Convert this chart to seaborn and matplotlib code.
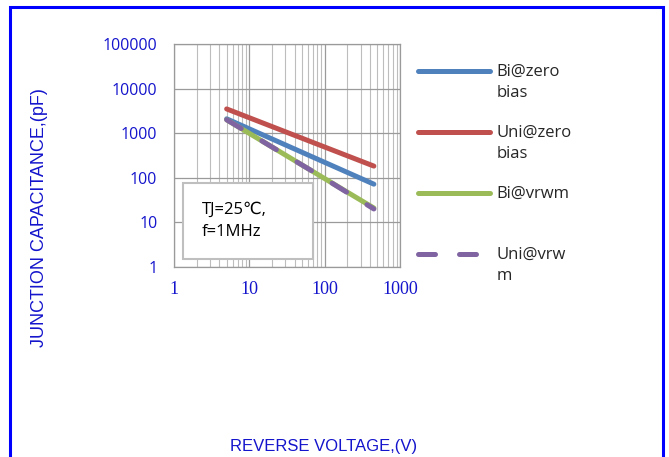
import numpy as np
import pandas as pd
import matplotlib
matplotlib.use("Agg")
import matplotlib.pyplot as plt
from matplotlib.patches import Rectangle
from matplotlib.lines import Line2D
from matplotlib.legend_handler import HandlerLine2D
from matplotlib.ticker import LogLocator, NullLocator, NullFormatter
import seaborn as sns

# Datos (voltaje inverso vs capacitancia)
voltaje = [5, 10, 100, 450]
bi_zero = [2100, 1250, 222, 72]
uni_zero = [3500, 2220, 490, 183]
bi_vrwm = [2000, 990, 96, 21]
uni_vrwm = [2000, 990, 96, 20]

series = ["Bi@zero\nbias", "Uni@zero\nbias", "Bi@vrwm\n ", "Uni@vrw\nm"]
colores = ["#4F81BD", "#C0504D", "#9BBB59", "#8064A2"]
valores = [bi_zero, uni_zero, bi_vrwm, uni_vrwm]

x_ticks = [1, 10, 100, 1000]
y_ticks = [1, 10, 100, 1000, 10000, 100000]

azul = "#1414CC"
interlineado = 1.4

sns.set_theme(style="white")
plt.rcParams["font.family"] = ["Open Sans", "DejaVu Sans"]


class PrimeraLinea(HandlerLine2D):
    # sube la linea de la leyenda a la altura de la primera linea del texto
    def __init__(self, shift, **kw):
        super().__init__(**kw)
        self.shift = shift

    def create_artists(self, legend, orig_handle, xdescent, ydescent,
                       width, height, fontsize, trans):
        arts = super().create_artists(legend, orig_handle, xdescent, ydescent,
                                      width, height, fontsize, trans)
        for a in arts:
            a.set_ydata(np.asarray(a.get_ydata()) + self.shift)
        return arts


fig = plt.figure(figsize=(6.69, 4.57), dpi=100)
ax = fig.add_axes([174 / 669, 1 - 267 / 457, 226 / 669, 223 / 457])

for nombre, col, vals in zip(series, colores, valores):
    df = pd.DataFrame({"V": voltaje, "C": vals})
    sns.lineplot(data=df, x="V", y="C", color=col, lw=3.6, ax=ax,
                 label=nombre, solid_capstyle="round", zorder=3)

linea_purpura = ax.lines[-1]
linea_purpura.set_dashes((3.4, 4.8))
linea_purpura.set_dash_capstyle("round")

ax.set_xscale("log")
ax.set_yscale("log")
ax.set_xlim(1, 1000)
ax.set_ylim(1, 100000)
ax.set_xticks(x_ticks, labels=[str(v) for v in x_ticks])
ax.set_yticks(y_ticks, labels=[str(v) for v in y_ticks])
ax.xaxis.set_minor_locator(LogLocator(base=10, subs=np.arange(2, 10)))
ax.xaxis.set_minor_formatter(NullFormatter())
ax.yaxis.set_minor_locator(NullLocator())
ax.tick_params(which="both", length=0)
ax.tick_params(axis="y", pad=12, labelcolor=azul, labelsize=11.5)
ax.tick_params(axis="x", pad=10, labelcolor=azul, labelsize=13)
for t in ax.get_xticklabels():
    t.set_family("Liberation Serif")

ax.grid(which="major", axis="both", color="#9A9A9A", lw=0.9, zorder=0)
ax.grid(which="minor", axis="x", color="#BDBDBD", lw=0.8, zorder=0)
for s in ax.spines.values():
    s.set_color("#9A9A9A")
    s.set_linewidth(0.9)

ax.set_xlabel("")
ax.set_ylabel("")

# cuadro de condiciones
ax.add_patch(Rectangle((0.04, 0.036), 0.575, 0.341, transform=ax.transAxes,
                       facecolor="white", edgecolor="#BFBFBF", lw=1.5, zorder=4))
ax.text(0.124, 0.2085, "TJ=25\u2103,\nf=1MHz", transform=ax.transAxes,
        fontsize=12, color="black", va="center", ha="left", linespacing=1.5,
        zorder=5)

# etiquetas de los ejes
fig.text(324 / 669, 1 - 446 / 457, "REVERSE VOLTAGE,(V)", color=azul,
         fontsize=12, family="Liberation Sans", ha="center", va="center")
fig.text(40 / 669, 1 - 218 / 457, "JUNCTION CAPACITANCE,(pF)", color=azul,
         fontsize=13, family="Liberation Sans", ha="center", va="center",
         rotation=90)

handles, labels = ax.get_legend_handles_labels()
leg = ax.legend(handles, labels, loc="upper left",
                bbox_to_anchor=(410 / 669, 1 - 56 / 457),
                bbox_transform=fig.transFigure, frameon=False, fontsize=12,
                borderpad=0, handlelength=4.3, handletextpad=0.4,
                labelspacing=1.45,
                handler_map={Line2D: PrimeraLinea(shift=0.5 * interlineado * 12)})
for t in leg.get_texts():
    t.set_linespacing(interlineado)

# marco azul exterior
fig.patches.append(Rectangle((9.5 / 669, -0.1), (662.5 - 9.5) / 669,
                             1.1 - 7.5 / 457, transform=fig.transFigure,
                             fill=False, edgecolor="#0000FF", lw=2.2))

fig.savefig("out.png", dpi=100)
plt.close(fig)
